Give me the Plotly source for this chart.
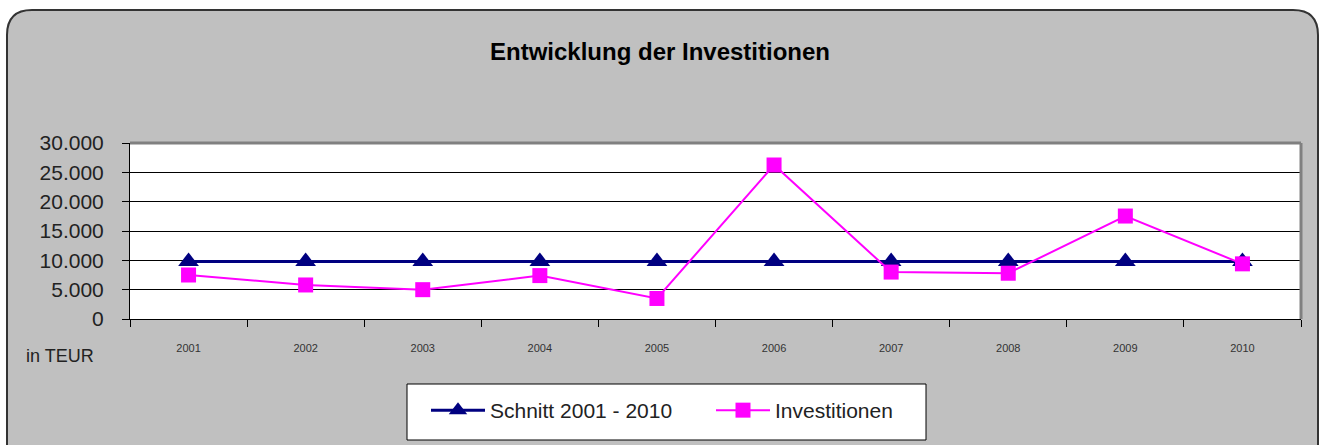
import plotly.graph_objects as go

years = ["2001", "2002", "2003", "2004", "2005", "2006", "2007", "2008", "2009", "2010"]
investitionen = [7500, 5800, 5000, 7400, 3500, 26250, 8000, 7800, 17550, 9400]
schnitt = [9820] * 10
y_ticks = [0, 5000, 10000, 15000, 20000, 25000, 30000]

W, H = 1320, 445
L, R, T, B = 130, 1301, 143, 319  # plot area in pixels

def px(x):
    return (x - L) / (R - L)

def py(y):
    return (B - y) / (B - T)

def P(x, y):
    return f"{px(x):.5f},{py(y):.5f}"

# rounded frame
x0, y0, x1, y1, r = 7, 10, 1318, 470, 25
inner = (f"M{P(x0, y0 + r)} Q{P(x0, y0)} {P(x0 + r, y0)} L{P(x1 - r, y0)} "
         f"Q{P(x1, y0)} {P(x1, y0 + r)} L{P(x1, y1)} L{P(x0, y1)} Z")
outer = f"M{P(0, 0)} L{P(W, 0)} L{P(W, H)} L{P(0, H)} Z"

fig = go.Figure()
fig.add_trace(go.Scatter(
    x=years, y=schnitt, name="Schnitt 2001 - 2010", mode="lines+markers",
    line=dict(color="#000080", width=3),
    marker=dict(symbol="triangle-up", size=18, color="#000080"),
))
fig.add_trace(go.Scatter(
    x=years, y=investitionen, name="Investitionen", mode="lines+markers",
    line=dict(color="#FF00FF", width=2),
    marker=dict(symbol="square", size=15, color="#FF00FF"),
))

fig.update_layout(
    width=W, height=H,
    margin=dict(l=L, r=W - R, t=T, b=H - B),
    paper_bgcolor="#C0C0C0", plot_bgcolor="white",
    separators=",.",
    title=dict(text="<b>Entwicklung der Investitionen</b>", x=0.5, xref="container",
               xanchor="center", y=1 - 52 / H, yanchor="middle",
               font=dict(family="Liberation Sans Narrow, Arial Narrow, Liberation Sans", size=24, color="black")),
    showlegend=True,
    legend=dict(orientation="h", x=px(426), xanchor="left", y=py(390), yanchor="top",
                bgcolor="rgba(0,0,0,0)", borderwidth=0,
                font=dict(family="Liberation Sans, Arial", size=21, color="#222"),
                entrywidth=216, itemwidth=54),
    shapes=[
        dict(type="path", xref="paper", yref="paper", path=outer + " " + inner,
             fillcolor="white", fillrule="evenodd", line=dict(width=0), layer="below"),
        dict(type="path", xref="paper", yref="paper", path=inner,
             line=dict(color="#333333", width=2), fillcolor="rgba(0,0,0,0)", layer="above"),
        dict(type="line", xref="paper", yref="paper", x0=0, x1=1, y0=1, y1=1,
             line=dict(color="#808080", width=3), layer="above"),
        dict(type="line", xref="paper", yref="paper", x0=1, x1=1, y0=0, y1=1,
             line=dict(color="#808080", width=3), layer="above"),
        dict(type="rect", xref="paper", yref="paper", x0=px(407), x1=px(926), y0=py(384), y1=py(440),
             fillcolor="white", line=dict(color="black", width=1), layer="below"),
    ],
    annotations=[dict(text="in TEUR", xref="paper", yref="paper", x=px(24), y=py(356),
                      xanchor="left", yanchor="middle", showarrow=False,
                      font=dict(family="Liberation Sans, Arial", size=18, color="#222"))],
)

fig.update_xaxes(type="category", range=[-0.5, 9.5], showgrid=False, showline=True,
                 linecolor="black", linewidth=1,
                 ticks="outside", ticklen=7, tickcolor="black", tickson="boundaries",
                 ticklabelstandoff=19,
                 tickfont=dict(family="Liberation Sans, Arial", size=11, color="#333"))
fig.update_yaxes(range=[0, 30000], tickvals=y_ticks, tickformat=",d", showgrid=True,
                 gridcolor="black", gridwidth=1, zeroline=False,
                 showline=True, linecolor="black", linewidth=1,
                 ticks="outside", ticklen=7, tickcolor="black", ticklabelstandoff=14,
                 tickfont=dict(family="Liberation Sans, Arial", size=21, color="#222"))

fig.write_html("out.html", config={"displayModeBar": False},
               post_script="document.body.style.margin='0';document.body.style.overflow='hidden';")
